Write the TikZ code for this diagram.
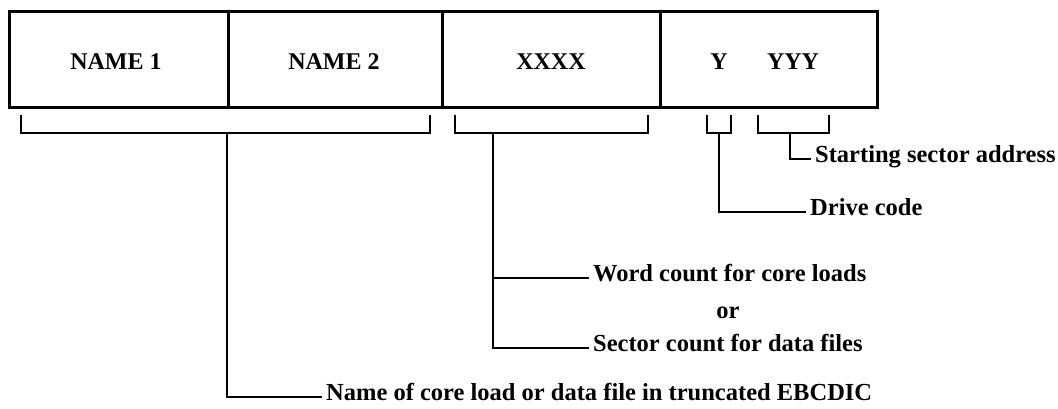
\documentclass[tikz,border=0pt]{standalone}
\usepackage{fontspec}
\setmainfont{Liberation Serif}
\begin{document}
\begin{tikzpicture}[x=1pt,y=-1pt,
  field/.style={draw,line width=3pt,minimum height=96pt,inner sep=0pt},
  fieldtext/.style={inner sep=0pt,font=\fontsize{24}{28}\selectfont\bfseries},
  brace/.style={line width=2.8pt,line join=miter},
  lead/.style={line width=2.6pt,shorten >=4pt},
  note/.style={anchor=west,inner sep=0pt,text height=1.45ex,text depth=0pt,
    font=\fontsize{24.5}{28}\selectfont\bfseries}]
\useasboundingbox (0,0) rectangle (1058,409);

% record layout: four fields
\node[field,minimum width=219pt] (n1) at (118.5,60) {};
\node[field,minimum width=214pt] (n2) at (335,60) {};
\node[field,minimum width=218pt] (cnt) at (551,60) {};
\node[field,minimum width=217pt] (adr) at (768.5,60) {};
\node[fieldtext] (t1) at (116,62) {NAME 1};
\node[fieldtext] (t2) at (334,62) {NAME 2};
\node[fieldtext] (t3) at (551,62) {XXXX};
\node[fieldtext] (drv) at (719,62) {Y};
\node[fieldtext] (sec) at (793,62) {YYY};

% brackets under the fields
\draw[brace] (21,115) -- (21,133) -- (430,133) -- (430,115);
\draw[brace] (455,115) -- (455,133) -- (648,133) -- (648,115);
\draw[brace] (707,115) -- (707,133) -- (731,133) -- (731,115);
\draw[brace] (758,115) -- (758,133) -- (829,133) -- (829,115);
\coordinate (bn) at (227,133);
\coordinate (bc) at (493,133);
\coordinate (bd) at (719,133);
\coordinate (bs) at (790,133);

% descriptions
\node[note] (ls) at (815,159) {Starting sector address};
\node[note] (ld) at (810,212) {Drive code};
\node[note] (lw) at (593,278) {Word count for core loads};
\node[font=\fontsize{24.5}{28}\selectfont\bfseries,inner sep=0pt] (lor) at (728,313) {or};
\node[note] (lsc) at (593,348) {Sector count for data files};
\node[note] (ln) at (326,397) {Name of core load or data file in truncated EBCDIC};

% leader lines
\draw[lead] (bs) |- (ls.west);
\draw[lead] (bd) |- (ld.west);
\draw[lead] (bc) |- (lsc.west);
\draw[lead] (bc |- lw.west) -- (lw.west);
\draw[lead] (bn) |- (ln.west);
\end{tikzpicture}
\end{document}
